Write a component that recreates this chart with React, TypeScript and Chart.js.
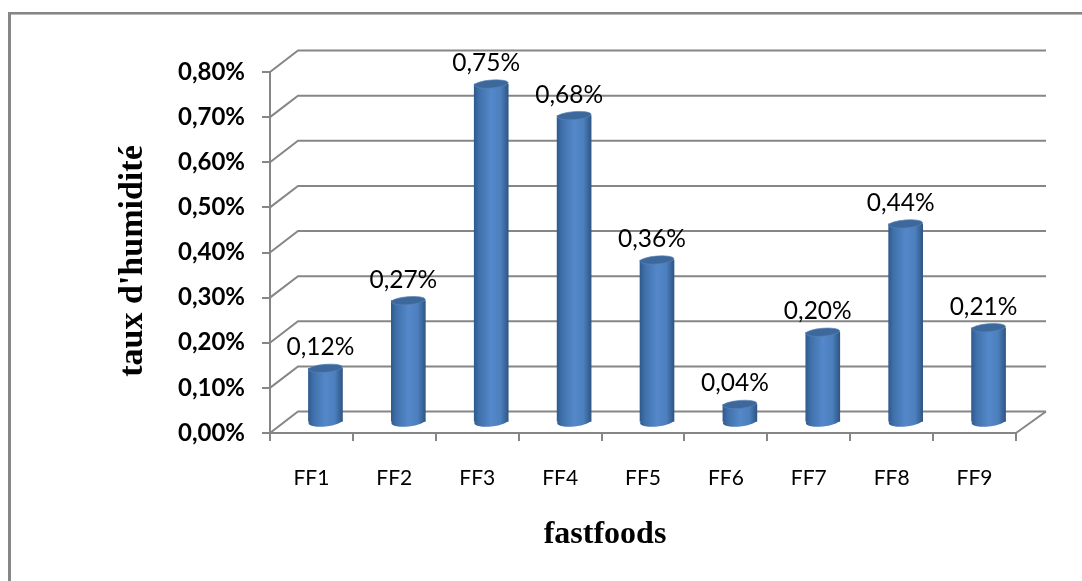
import React, { useEffect, useRef } from "react";
import { Chart, registerables } from "chart.js";

Chart.register(...registerables);

const categories = ["FF1", "FF2", "FF3", "FF4", "FF5", "FF6", "FF7", "FF8", "FF9"];
const moisture = [0.12, 0.27, 0.75, 0.68, 0.36, 0.04, 0.2, 0.44, 0.21];
const valueLabels = ["0,12%", "0,27%", "0,75%", "0,68%", "0,36%", "0,04%", "0,20%", "0,44%", "0,21%"];
const yTickLabels = ["0,00%", "0,10%", "0,20%", "0,30%", "0,40%", "0,50%", "0,60%", "0,70%", "0,80%"];

const yAxisTitle = "taux d'humidité";
const xAxisTitle = "fastfoods";

const LINE = "#868686";
const DEPTH_X = 30;
const DEPTH_Y = 21.5;
const BAR_SHIFT_X = 14;
const BAR_SHIFT_Y = 10.5;
const BAR_WIDTH = 34;

// Side-to-side shading that makes each bar read as a cylinder.
function cylinderFill(ctx: CanvasRenderingContext2D, cx: number) {
  if (!Number.isFinite(cx)) return "#4a7cb9";
  const g = ctx.createLinearGradient(cx - BAR_WIDTH / 2, 0, cx + BAR_WIDTH / 2, 0);
  g.addColorStop(0, "#2f5a8e");
  g.addColorStop(0.14, "#3f70aa");
  g.addColorStop(0.5, "#5488ca");
  g.addColorStop(0.78, "#4c7fbd");
  g.addColorStop(1, "#2f5685");
  return g;
}

// Outer frame: only the top and left edges are drawn.
const framePlugin = {
  id: "frame",
  beforeDraw(chart: any) {
    const { ctx, width, height } = chart;
    ctx.save();
    ctx.fillStyle = "#868686";
    ctx.fillRect(8, 12, width - 8, 2);
    ctx.fillRect(8, 12, 3, height - 12);
    ctx.fillStyle = "#b8b8b8";
    ctx.fillRect(11, 14, width - 11, 1);
    ctx.restore();
  },
};

// Back wall gridlines, side wall diagonals and the floor edge.
const wallsPlugin = {
  id: "walls",
  beforeDatasetsDraw(chart: any) {
    const { ctx, scales, chartArea } = chart;
    const y = scales.y;
    ctx.save();
    ctx.strokeStyle = LINE;
    ctx.lineWidth = 2;
    y.ticks.forEach((t: any) => {
      const py = y.getPixelForValue(t.value);
      ctx.beginPath();
      ctx.moveTo(chartArea.left, py);
      ctx.lineTo(chartArea.left + DEPTH_X - 2, py - DEPTH_Y);
      ctx.lineTo(chartArea.right + DEPTH_X, py - DEPTH_Y);
      ctx.stroke();
    });
    const floor = y.getPixelForValue(0);
    ctx.beginPath();
    ctx.moveTo(chartArea.right, floor);
    ctx.lineTo(chartArea.right + DEPTH_X, floor - DEPTH_Y);
    ctx.stroke();
    ctx.restore();
  },
};

// Bars sit halfway into the depth of the floor; the rounded base and the cap
// are added around the rectangle that Chart.js draws.
const cylinderPlugin = {
  id: "cylinders",
  beforeDatasetDraw(chart: any) {
    chart.ctx.save();
    chart.ctx.translate(BAR_SHIFT_X, -BAR_SHIFT_Y);
  },
  afterDatasetDraw(chart: any, args: any) {
    const { ctx } = chart;
    args.meta.data.forEach((bar: any) => {
      ctx.fillStyle = cylinderFill(ctx, bar.x);
      ctx.beginPath();
      ctx.ellipse(bar.x, bar.base, BAR_WIDTH / 2, 5, -0.1, 0, Math.PI * 2);
      ctx.fill();
      ctx.fillStyle = "#3d689c";
      ctx.beginPath();
      ctx.ellipse(bar.x, bar.y, BAR_WIDTH / 2, 4, -0.08, 0, Math.PI * 2);
      ctx.fill();
      ctx.strokeStyle = "rgba(90,130,180,0.7)";
      ctx.lineWidth = 1;
      ctx.stroke();
    });
    ctx.restore();
  },
};

// Value labels above the bars, plus the two axis titles placed off-centre.
const textPlugin = {
  id: "texts",
  afterDraw(chart: any) {
    const { ctx, scales } = chart;
    const bars = chart.getDatasetMeta(0).data;
    ctx.save();
    ctx.fillStyle = "#000";
    ctx.textAlign = "center";
    ctx.textBaseline = "middle";
    ctx.font = "24.5px Lato";
    bars.forEach((bar: any, i: number) => {
      ctx.fillText(valueLabels[i], bar.x + BAR_SHIFT_X - 5, bar.y - BAR_SHIFT_Y - 21);
    });
    const xf = scales.x.options.title.font;
    ctx.font = xf.weight + " " + xf.size + "px " + xf.family;
    ctx.fillText(scales.x.options.title.text, 605, 535);
    const yf = scales.y.options.title.font;
    ctx.font = yf.weight + " " + yf.size + "px " + yf.family;
    ctx.translate(133, 261);
    ctx.rotate(-Math.PI / 2);
    ctx.fillText(scales.y.options.title.text, 0, 0);
    ctx.restore();
  },
};

export default function App() {
  const ref = useRef<HTMLCanvasElement>(null);

  useEffect(() => {
    document.body.style.margin = "0";
    document.body.style.background = "#fff";
    const chart = new Chart(ref.current!, {
      type: "bar",
      data: {
        labels: categories,
        datasets: [
          {
            label: "taux d'humidité",
            data: moisture,
            barThickness: BAR_WIDTH,
            borderWidth: 0,
            backgroundColor: (c: any) =>
              cylinderFill(c.chart.ctx, c.chart.scales.x.getPixelForValue(c.dataIndex)),
          },
        ],
      },
      plugins: [framePlugin, wallsPlugin, cylinderPlugin, textPlugin],
      options: {
        responsive: false,
        animation: false,
        layout: { padding: { left: 0, right: 66, top: 72, bottom: 0 } },
        plugins: { legend: { display: false }, tooltip: { enabled: false } },
        scales: {
          x: {
            afterFit: (s: any) => {
              s.height = 148;
            },
            title: {
              display: false,
              text: xAxisTitle,
              font: { family: "Liberation Serif", size: 32, weight: "bold" },
            },
            border: { color: LINE, width: 2 },
            grid: { color: LINE, lineWidth: 2, drawOnChartArea: false, tickLength: 8 },
            ticks: { color: "#000", font: { family: "Lato", size: 21 }, padding: 25, maxRotation: 0 },
          },
          y: {
            min: 0,
            max: 0.8,
            afterFit: (s: any) => {
              s.width = 270;
            },
            title: {
              display: false,
              text: yAxisTitle,
              font: { family: "Liberation Serif", size: 34, weight: "bold" },
            },
            border: { color: LINE, width: 2 },
            grid: { color: LINE, lineWidth: 2, drawOnChartArea: false, tickLength: 8 },
            ticks: {
              stepSize: 0.1,
              color: "#000",
              padding: 17,
              font: { family: "Lato", size: 24, weight: "bold" },
              callback: (_v: any, i: number) => yTickLabels[i],
            },
          },
        },
      },
    } as any);
    return () => chart.destroy();
  }, []);

  return <canvas ref={ref} width={1082} height={581} style={{ display: "block" }} />;
}
